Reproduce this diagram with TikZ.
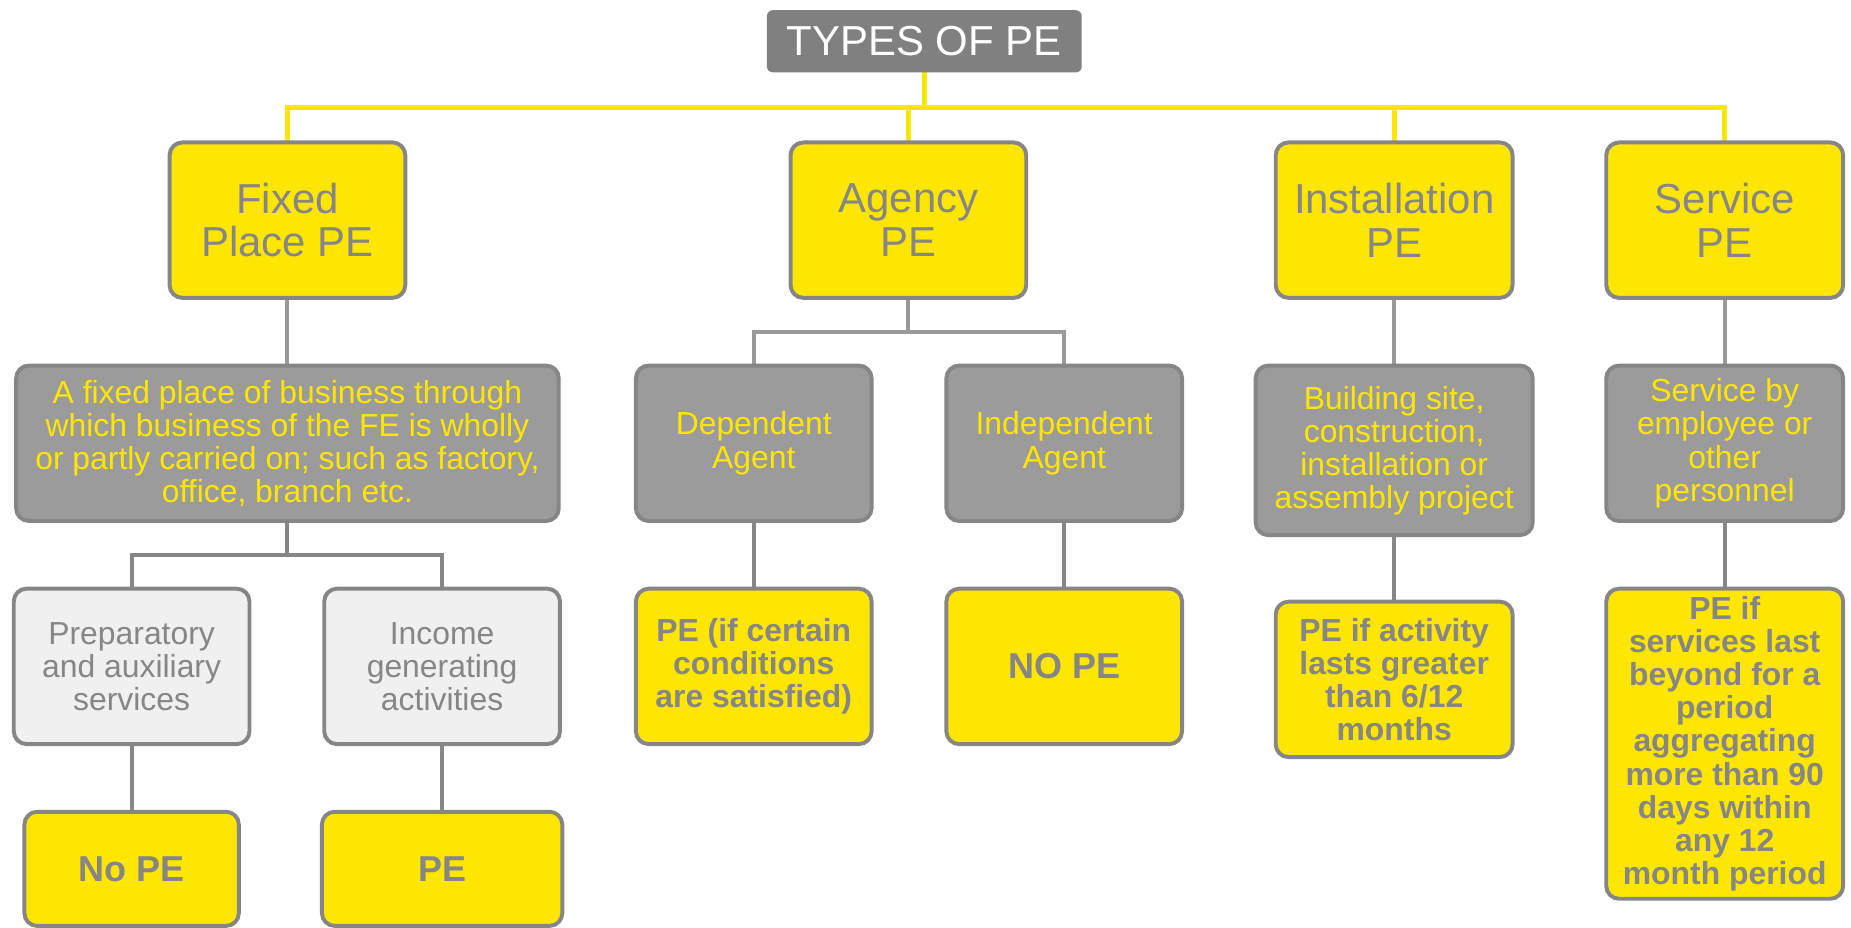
\documentclass[tikz,border=0pt]{standalone}
\usepackage{fontspec}
\setmainfont{Liberation Sans}
\usetikzlibrary{backgrounds}
\definecolor{peyellow}{HTML}{FFE600}
\definecolor{pegray}{HTML}{868686}
\definecolor{pelink}{HTML}{999999}
\definecolor{pefill}{HTML}{9B9B9B}
\definecolor{pelight}{HTML}{F0F0F0}
\definecolor{petitle}{HTML}{808080}
\def\px{0.6pt}
\tikzset{
  dims/.style 2 args={minimum width={#1*\px-2pt}, minimum height={#2*\px-2pt}},
  basebox/.style={rectangle, rounded corners=6.5pt, draw=pegray, line width=2pt,
    inner sep=0pt, align=center},
  titlebox/.style={rectangle, rounded corners=3pt, fill=petitle, text=white,
    inner sep=0pt, font=\fontsize{21.3}{22.2}\selectfont},
  typebox/.style={basebox, fill=peyellow, text=pegray, font=\fontsize{21.3}{22.2}\selectfont},
  descbox/.style={basebox, fill=pefill, text=peyellow, font=\fontsize{16.2}{16.8}\selectfont},
  casebox/.style={basebox, fill=pelight, text=pegray, font=\fontsize{16.2}{16.8}\selectfont},
  resultbox/.style={basebox, fill=peyellow, text=pegray, font=\fontsize{16.2}{16.8}\selectfont\bfseries},
  bigresult/.style={basebox, fill=peyellow, text=pegray, font=\fontsize{18.3}{20}\selectfont\bfseries},
  ylink/.style={draw=peyellow, line width=2.5pt},
  glink/.style={draw=pelink, line width=2pt},
  dlink/.style={draw=pegray, line width=2pt}
}
\begin{document}
\begin{tikzpicture}[x=0.6pt, y=-0.6pt]
\useasboundingbox (0,0) rectangle (1568,786);

% title
\node[titlebox, dims={270}{56}] (title) at (783,35) {TYPES OF PE};

% the four kinds of PE
\node[typebox, dims={203}{135}] (fixed)   at (243.5,186.5) {Fixed\\Place PE};
\node[typebox, dims={203}{135}] (agency)  at (769.5,186.5) {Agency\\PE};
\node[typebox, dims={204}{135}] (install) at (1181,186.5)  {Installation\\PE};
\node[typebox, dims={204}{135}] (service) at (1461,186.5)  {Service\\PE};

% descriptions
\node[descbox, dims={463}{135}] (fdesc) at (243.5,375.5) {A fixed place of business through\\which business of the FE is wholly\\or partly carried on; such as factory,\\office, branch etc.};
\node[descbox, dims={203}{135}] (dep)   at (638.5,375.5) {Dependent\\Agent};
\node[descbox, dims={203}{135}] (indep) at (901.5,375.5) {Independent\\Agent};
\node[descbox, dims={238}{147}] (build) at (1181,381.5)  {Building site,\\construction,\\installation or\\assembly project};
\node[descbox, dims={204}{135}] (sby)   at (1461,375.5)  {Service by\\employee or\\other\\personnel};

% cases and outcomes
\node[casebox, dims={203}{135}] (prep)   at (111.5,564.5) {Preparatory\\and auxiliary\\services};
\node[casebox, dims={203}{135}] (income) at (374.5,564.5) {Income\\generating\\activities};
\node[resultbox, dims={203}{135}] (pecert) at (638.5,564.5) {PE (if certain\\conditions\\are satisfied)};
\node[bigresult, dims={203}{135}] (nope)   at (901.5,564.5) {NO PE};
\node[resultbox, dims={204}{135}] (peact)  at (1181,575.5)  {PE if activity\\lasts greater\\than 6/12\\months};
\node[resultbox, dims={204}{266}] (peserv) at (1461,630)    {PE if\\services last\\beyond for a\\period\\aggregating\\more than 90\\days within\\any 12\\month period};
\node[bigresult, dims={185}{100}] (nope2)  at (111.5,736)   {No PE};
\node[bigresult, dims={207}{100}] (pe2)    at (374.5,736)   {PE};

% connectors behind the boxes
\begin{pgfonlayer}{background}
  \coordinate (bus) at (783,91);
  \coordinate (asplit) at (769.5,281);
  \coordinate (fsplit) at (243.5,470);
  \draw[ylink] (title.center) -- (bus);
  \draw[ylink] (fixed.center) |- (bus) -| (service.center);
  \draw[ylink] (agency.center) -- (agency.center |- bus);
  \draw[ylink] (install.center) -- (install.center |- bus);

  \draw[glink] (fixed.center) -- (fdesc.center);
  \draw[glink] (agency.center) -- (asplit);
  \draw[glink] (dep.center) |- (asplit) -| (indep.center);
  \draw[glink] (install.center) -- (build.center);
  \draw[glink] (service.center) -- (sby.center);

  \draw[dlink] (fdesc.center) -- (fsplit);
  \draw[dlink] (prep.center) |- (fsplit) -| (income.center);
  \draw[dlink] (dep.center) -- (pecert.center);
  \draw[dlink] (indep.center) -- (nope.center);
  \draw[dlink] (build.center) -- (peact.center);
  \draw[dlink] (sby.center) -- (peserv.center);
  \draw[dlink] (prep.center) -- (nope2.center);
  \draw[dlink] (income.center) -- (pe2.center);
\end{pgfonlayer}
\end{tikzpicture}
\end{document}
